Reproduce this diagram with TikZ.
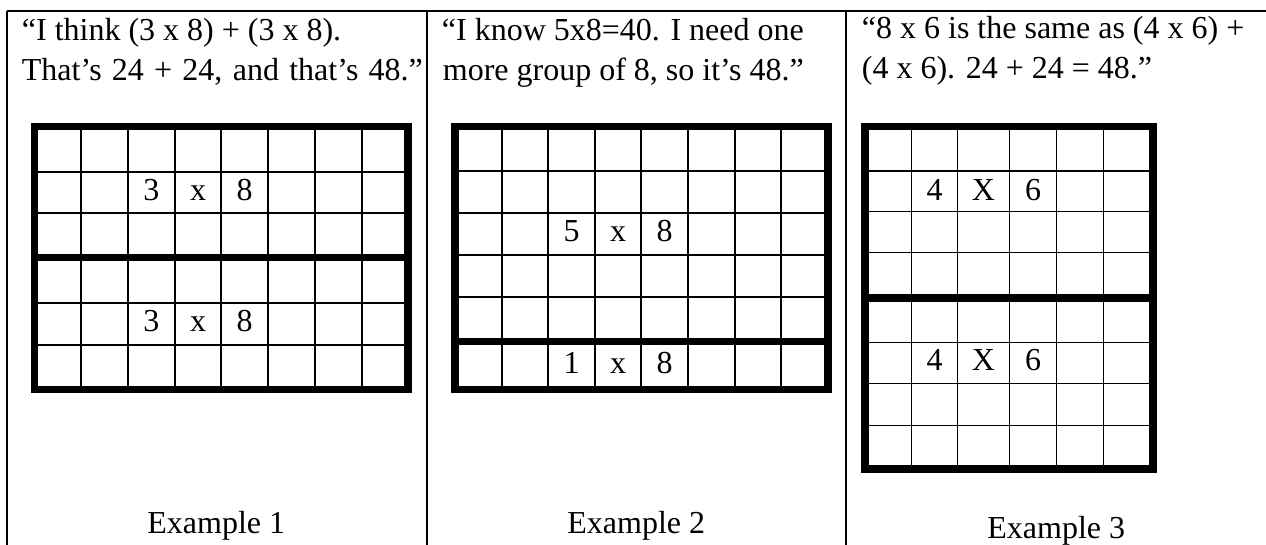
\documentclass[tikz,border=0pt]{standalone}
\usepackage{fontspec}
\setmainfont{Liberation Serif}
\begin{document}
\begin{tikzpicture}[x=1pt,y=-1pt,
  txt/.style={inner sep=0pt, anchor=base west, font=\fontsize{32}{40}\selectfont},
  cell/.style={inner sep=0pt, anchor=base, font=\fontsize{32}{40}\selectfont},
  lbl/.style={inner sep=0pt, anchor=base, font=\fontsize{32}{40}\selectfont},
  frame/.style={line width=1.7pt},
  thinline/.style={line width=2pt},
  thinnerline/.style={line width=1.4pt},
  thickline/.style={line width=7.5pt, line join=miter}]
\useasboundingbox (0,0) rectangle (1266,544);
\fill[white] (0,0) rectangle (1266,544);

% table frame
\draw[frame] (7,10.7) -- (1270,10.7);
\foreach \xx in {7,427,846} \draw[frame] (\xx,10.7) -- (\xx,550);

% quotes
\node[txt] (q1a) at (21.7,40) {“I think (3 x 8) + (3 x 8).};
\node[txt] (q1b) at (21.7,80) {\makebox[401pt][s]{That’s 24 + 24, and that’s 48.”}};
\node[txt] (q2a) at (441.7,40) {“I know 5x8=40. I need one};
\node[txt] (q2b) at (442.7,80) {more group of 8, so it’s 48.”};
\node[txt] (q3a) at (861.7,38) {“8 x 6 is the same as (4 x 6) +};
\node[txt] (q3b) at (861.7,78) {(4 x 6). 24 + 24 = 48.”};

% ---------- grid 1 ----------
\foreach \xx in {81.2,127.9,174.6,221.3,268.0,314.8,361.5}
  \draw[thinline] (\xx,126.3) -- (\xx,389.6);
\foreach \yy in {171.5,213,302.7,345}
  \draw[thinline] (34.5,\yy) -- (408.2,\yy);
\draw[thickline] (34.5,257.7) -- (408.2,257.7);
\draw[thickline] (34.5,126.3) rectangle (408.2,389.6);
\node[cell] (a1) at (151.3,200.7) {3};
\node[cell] (a2) at (198.0,200.7) {x};
\node[cell] (a3) at (244.6,200.7) {8};
\node[cell] (a4) at (151.3,331.7) {3};
\node[cell] (a5) at (198.0,331.7) {x};
\node[cell] (a6) at (244.6,331.7) {8};

% ---------- grid 2 ----------
\foreach \xx in {501.6,548.2,594.8,641.4,688,734.6,781.2}
  \draw[thinline] (\xx,126.3) -- (\xx,389.6);
\foreach \yy in {171,212.7,255,296.7}
  \draw[thinline] (455,\yy) -- (827.8,\yy);
\draw[thickline] (455,341.7) -- (827.8,341.7);
\draw[thickline] (455,126.3) rectangle (827.8,389.6);
\node[cell] (b1) at (571.5,241.7) {5};
\node[cell] (b2) at (618.1,241.7) {x};
\node[cell] (b3) at (664.7,241.7) {8};
\node[cell] (b4) at (571.5,373.3) {1};
\node[cell] (b5) at (618.1,373.3) {x};
\node[cell] (b6) at (664.7,373.3) {8};

% ---------- grid 3 ----------
\foreach \xx in {911.7,957.3,1009.7,1056.7,1103.7}
  \draw[thinnerline] (\xx,126.3) -- (\xx,469);
\foreach \yy in {171,211.3,252.7,342.3,383.7,425.3}
  \draw[thinnerline] (865,\yy) -- (1153,\yy);
\draw[thickline] (865,298) -- (1153,298);
\draw[thickline] (865,126.3) rectangle (1153,469);
\node[cell] (c1) at (934.5,200) {4};
\node[cell] (c2) at (983.5,200) {X};
\node[cell] (c3) at (1033.2,200) {6};
\node[cell] (c4) at (934.5,370) {4};
\node[cell] (c5) at (983.5,370) {X};
\node[cell] (c6) at (1033.2,370) {6};

% labels
\node[lbl] (e1) at (216.3,533.3) {Example 1};
\node[lbl] (e2) at (636.3,533.3) {Example 2};
\node[lbl] (e3) at (1056.3,538.3) {Example 3};
\end{tikzpicture}
\end{document}
